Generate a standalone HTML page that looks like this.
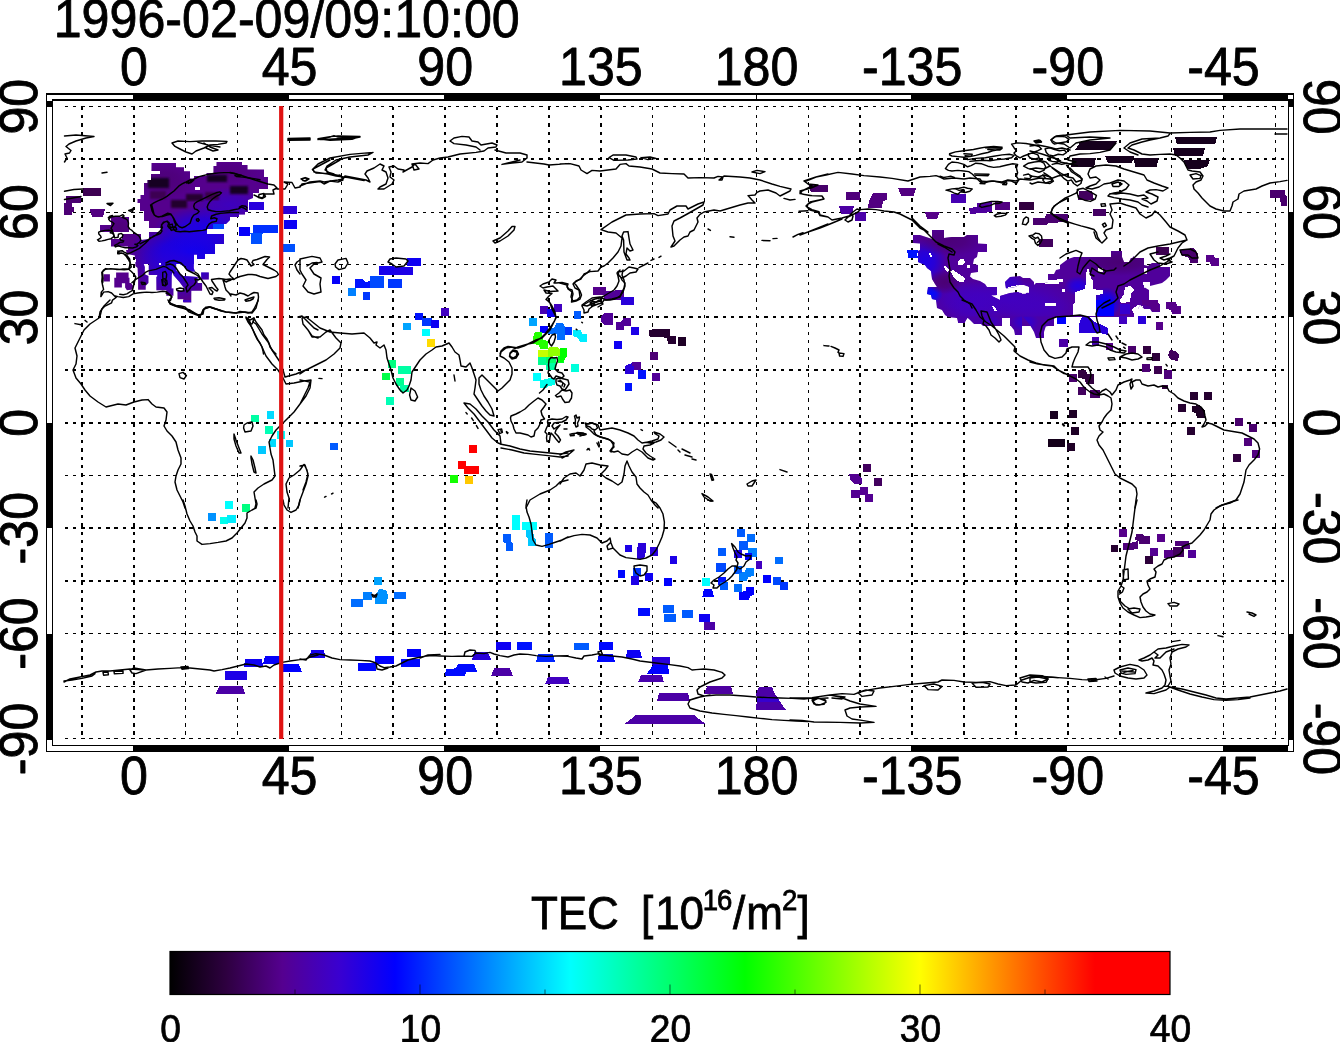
<!DOCTYPE html>
<html lang="en"><head><meta charset="utf-8"><title>TEC map 1996-02-09/09:10:00</title>
<style>html,body{margin:0;padding:0;background:#fff}body{width:1340px;height:1042px;overflow:hidden}svg{display:block}text{font-family:"Liberation Sans",Arial,Helvetica,sans-serif;fill:#000}</style>
</head><body>
<svg width="1340" height="1042" viewBox="0 0 1340 1042">
<rect width="1340" height="1042" fill="#fff"/>
<g id="grid" stroke="#000" stroke-dasharray="3.4 4.93" fill="none" shape-rendering="crispEdges">
<path stroke-width="1" d="M64.5 686.5H1287.5M64.5 633.5H1287.5M64.5 475.5H1287.5M64.5 264.5H1287.5M64.5 106.5H1287.5M185.5 106.7V738.9M237.5 106.7V738.9M289.5 106.7V738.9M341.5 106.7V738.9M652.5 106.7V738.9M704.5 106.7V738.9M756.5 106.7V738.9M808.5 106.7V738.9M1171.5 106.7V738.9M1223.5 106.7V738.9M1275.5 106.7V738.9"/>
<path stroke-width="1.4" d="M64.5 738.5H1287.5M64.5 212.5H1287.5"/>
<path stroke-width="2" d="M64.5 581.0H1287.5M64.5 528.0H1287.5M64.5 423.0H1287.5M64.5 370.0H1287.5M64.5 317.0H1287.5M64.5 159.0H1287.5M82.0 106.7V738.9M134.0 106.7V738.9M393.0 106.7V738.9M445.0 106.7V738.9M497.0 106.7V738.9M549.0 106.7V738.9M601.0 106.7V738.9M860.0 106.7V738.9M912.0 106.7V738.9M964.0 106.7V738.9M1016.0 106.7V738.9M1068.0 106.7V738.9M1120.0 106.7V738.9"/>
</g>
<g id="cells" shape-rendering="crispEdges">
<defs><filter id="soft" x="-20%" y="-20%" width="140%" height="140%"><feGaussianBlur stdDeviation="0.9"/></filter><radialGradient id="r2"><stop offset="0" stop-color="#0b00f5" stop-opacity="1"/><stop offset="0.45" stop-color="#0b00f5" stop-opacity="0.75"/><stop offset="1" stop-color="#0b00f5" stop-opacity="0"/></radialGradient><radialGradient id="r3"><stop offset="0" stop-color="#1c00e7" stop-opacity="1"/><stop offset="0.45" stop-color="#1c00e7" stop-opacity="0.75"/><stop offset="1" stop-color="#1c00e7" stop-opacity="0"/></radialGradient><radialGradient id="r4"><stop offset="0" stop-color="#2900da" stop-opacity="0.8"/><stop offset="0.45" stop-color="#2900da" stop-opacity="0.60"/><stop offset="1" stop-color="#2900da" stop-opacity="0"/></radialGradient><radialGradient id="r5"><stop offset="0" stop-color="#3200d3" stop-opacity="0.7"/><stop offset="0.45" stop-color="#3200d3" stop-opacity="0.52"/><stop offset="1" stop-color="#3200d3" stop-opacity="0"/></radialGradient><radialGradient id="r6"><stop offset="0" stop-color="#4a0070" stop-opacity="0.7"/><stop offset="0.45" stop-color="#4a0070" stop-opacity="0.52"/><stop offset="1" stop-color="#4a0070" stop-opacity="0"/></radialGradient><radialGradient id="r7"><stop offset="0" stop-color="#4d0075" stop-opacity="0.6"/><stop offset="0.45" stop-color="#4d0075" stop-opacity="0.45"/><stop offset="1" stop-color="#4d0075" stop-opacity="0"/></radialGradient><radialGradient id="r8"><stop offset="0" stop-color="#4d0075" stop-opacity="0.8"/><stop offset="0.45" stop-color="#4d0075" stop-opacity="0.60"/><stop offset="1" stop-color="#4d0075" stop-opacity="0"/></radialGradient><clipPath id="g1"><path d="M151.5 163L176 163L176 167.2L184 167.2L184 171.2L190 171.2L190 178.5L194 178.5L194 176L206.5 176L206.5 173L213.5 173L213.5 166L216.5 166L216.5 162L241.5 162L241.5 166.5L247.5 166.5L247.5 169.5L264 169.5L264 189L259 189L259 193L253 193L253 198L248 200L248 212L238 212L238 217L230 217L230 220L226 224L224 224L224 229L207 229L207 234L224 234L224 244L215 244L215 254L205 254L205 258L197 258L197 254L194 254L194 264L136 264L136 250L140 246L149 240L149 232L161 232L161 228L149 228L149 221L144 221L144 211L140 211L140 203L137.5 203L137.5 199L140.5 199L140.5 195L144 195L144 183L147.5 183L147.5 180L151 180L151 174L160 174L160 171L151.5 171Z"/><path d="M230 162L242 162L242 165L247.5 165L247.5 170L263.5 170L263.5 177L268 177L268 189L259 189L259 193L253 193L253 198L248 200L248 212L245 212L245 214.5L239 214.5L239 217L230 217Z"/><rect x="100" y="225" width="12" height="7"/><rect x="111" y="217" width="18" height="15"/><path d="M122 234L141 234L141 240L150 239L150 250L135 252L128 250L128 246.5L111 246.5L111 239L122 239Z"/><path d="M135 252L135 259L147 259L149 262L149 266L160 266L160 250L150 250Z"/><path d="M126 250L126.9 254L134.9 255.4L134.9 259L148.8 259L148.8 275.1L157.3 275.1L157.3 276.9L159.1 275.1L171.6 275.1L173.4 270.6L176.1 270.6L176.1 261.6L183.3 266.1L186 266.1L193.6 267.9L193.6 254.5L197.2 254.5L197.2 259L204.8 259L204.8 253.6L213.7 253.6L213.7 250Z"/><path d="M156.4 276.9L159.1 275.1L171.6 275.1L171.6 288.5L173.4 288.5L173.4 295.7L166.3 295.7L166.3 290.3L156.4 290.3Z"/><path d="M173.4 270.6L176.1 270.6L183.3 276L197.6 276.9L197.6 283.1L202.1 283.1L202.1 290.7L191.3 290.7L191.3 302.4L183.3 302.4L183.3 299.3L177.5 299.3L177.5 290.7L184.2 290.7L184.2 288.5L179.7 282.2L173.4 275.1Z"/><path d="M186 266.1L193.6 267.9L194.9 271.5L189.5 271.5L186 269.7Z"/><rect x="201.2" y="272.4" width="7.6" height="7.2"/><rect x="103.6" y="274.2" width="6.3" height="7.2"/><rect x="116.1" y="272.4" width="12.5" height="5.4"/><rect x="114.3" y="277.8" width="15.2" height="5.4"/><rect x="114.3" y="283.1" width="7.6" height="4.3"/><path d="M125.1 283.1L130.9 283.1L133.1 285.8L133.1 289.4L126.9 290.3L125.1 287.6Z"/><path d="M135.4 262.1L143 262.1L144.8 267L144.8 274.2L148.4 276L148.4 283.1L145.7 285.8L145.7 289.8L138.1 289.8L138.1 279.6L137.6 267.9L135.4 266.1Z"/></clipPath><radialGradient id="r10"><stop offset="0" stop-color="#4000c4" stop-opacity="0.9"/><stop offset="0.45" stop-color="#4000c4" stop-opacity="0.68"/><stop offset="1" stop-color="#4000c4" stop-opacity="0"/></radialGradient><radialGradient id="r11"><stop offset="0" stop-color="#4000c4" stop-opacity="0.8"/><stop offset="0.45" stop-color="#4000c4" stop-opacity="0.60"/><stop offset="1" stop-color="#4000c4" stop-opacity="0"/></radialGradient><radialGradient id="r12"><stop offset="0" stop-color="#1c00e7" stop-opacity="1"/><stop offset="0.45" stop-color="#1c00e7" stop-opacity="0.75"/><stop offset="1" stop-color="#1c00e7" stop-opacity="0"/></radialGradient><radialGradient id="r13"><stop offset="0" stop-color="#000bff" stop-opacity="1"/><stop offset="0.45" stop-color="#000bff" stop-opacity="0.75"/><stop offset="1" stop-color="#000bff" stop-opacity="0"/></radialGradient><radialGradient id="r14"><stop offset="0" stop-color="#4a0070" stop-opacity="0.9"/><stop offset="0.45" stop-color="#4a0070" stop-opacity="0.68"/><stop offset="1" stop-color="#4a0070" stop-opacity="0"/></radialGradient><radialGradient id="r15"><stop offset="0" stop-color="#4a0070" stop-opacity="0.8"/><stop offset="0.45" stop-color="#4a0070" stop-opacity="0.60"/><stop offset="1" stop-color="#4a0070" stop-opacity="0"/></radialGradient><radialGradient id="r16"><stop offset="0" stop-color="#3200d3" stop-opacity="0.8"/><stop offset="0.45" stop-color="#3200d3" stop-opacity="0.60"/><stop offset="1" stop-color="#3200d3" stop-opacity="0"/></radialGradient><radialGradient id="r17"><stop offset="0" stop-color="#2100e2" stop-opacity="1"/><stop offset="0.45" stop-color="#2100e2" stop-opacity="0.75"/><stop offset="1" stop-color="#2100e2" stop-opacity="0"/></radialGradient><radialGradient id="r18"><stop offset="0" stop-color="#0600fa" stop-opacity="1"/><stop offset="0.45" stop-color="#0600fa" stop-opacity="0.75"/><stop offset="1" stop-color="#0600fa" stop-opacity="0"/></radialGradient><radialGradient id="r19"><stop offset="0" stop-color="#47006a" stop-opacity="0.8"/><stop offset="0.45" stop-color="#47006a" stop-opacity="0.60"/><stop offset="1" stop-color="#47006a" stop-opacity="0"/></radialGradient><radialGradient id="r20"><stop offset="0" stop-color="#4100c1" stop-opacity="0.7"/><stop offset="0.45" stop-color="#4100c1" stop-opacity="0.52"/><stop offset="1" stop-color="#4100c1" stop-opacity="0"/></radialGradient><radialGradient id="r21"><stop offset="0" stop-color="#4100c1" stop-opacity="0.6"/><stop offset="0.45" stop-color="#4100c1" stop-opacity="0.45"/><stop offset="1" stop-color="#4100c1" stop-opacity="0"/></radialGradient><clipPath id="g9"><path d="M913 235L920 235L932 239L932 230L944 230L944 238L952 237L964 237L967 235L978 235L978 243.5L987 244L987 252L978 252L977 257L974 259L973 264L978 265L978 272L971 273L970 276.5L973 279L980 281L985 284L987 287L997 287L997 295L991 295.5L1000 300L1000 296L1010 293L1018 292L1024 294L1029 292L1029 287L1024 285L1019 285L1015 287L1006 288.5L1005 282L1010 277L1020 276L1023 278L1030 278L1034 282L1034 326L983 326L979 322L972 321L968 317L965 322L958 322L957 318L948 317L945 315L942 310L937 308L936 300L932 299L931 295L927 294L928 287L937 287L935 284L932 279L931 271L927 268L925 265L918 262L918 251L920 250L920 243.5L913 243Z"/><path d="M1034 285L1036 283L1045 283L1048 282L1048 274L1054 274L1056 270L1060 269L1060 265L1068 259L1074 257L1111 257L1111 251L1122 251L1122 257L1124 262L1129 262L1134 256L1134 326L1034 326Z"/><path d="M1100 257L1111 257L1111 251L1122 251L1122 257L1124 262L1129 262L1131 258L1144 258L1144 265L1148 266L1152 263L1160 263L1160 267L1170 267L1170 276L1166 280L1162 283L1150 286L1150 282L1144 282L1144 287L1149 290L1149 300L1153 304L1160 304L1160 312L1152 312L1150 309L1144 309L1140 305L1138 309L1132 309L1132 314L1120 314L1120 309L1110 306L1108 309L1108 316L1100 316Z"/></clipPath><radialGradient id="r23"><stop offset="0" stop-color="#2900da" stop-opacity="0.8"/><stop offset="0.45" stop-color="#2900da" stop-opacity="0.60"/><stop offset="1" stop-color="#2900da" stop-opacity="0"/></radialGradient><radialGradient id="r24"><stop offset="0" stop-color="#3700ce" stop-opacity="0.6"/><stop offset="0.45" stop-color="#3700ce" stop-opacity="0.45"/><stop offset="1" stop-color="#3700ce" stop-opacity="0"/></radialGradient><clipPath id="g22"><path d="M958 316.5L965 316.5L965 323L958 323Z"/><path d="M966 316.5L1002 316.5L1002 325L994 325L990 324L984 322L982 324L974 324L970 320Z"/><path d="M1010 316.5L1022 316.5L1022 335L1015 335L1014 330L1010 325Z"/><path d="M1023 316.5L1053 316.5L1053 325L1044 327L1044 338L1036 338L1034 332L1030 325L1026 320Z"/><path d="M1040 316.5L1053 316.5L1053 324L1046 326L1044 332L1044 338L1040 338Z"/></clipPath></defs>
<g clip-path="url(#g1)"><rect x="0" y="0" width="1340" height="1042" fill="#55008d"/><ellipse cx="190" cy="252" rx="62" ry="30" fill="url(#r2)"/><ellipse cx="205" cy="228" rx="50" ry="22" fill="url(#r3)"/><ellipse cx="175" cy="270" rx="45" ry="30" fill="url(#r4)"/><ellipse cx="230" cy="205" rx="40" ry="18" fill="url(#r5)"/><ellipse cx="165" cy="180" rx="30" ry="18" fill="url(#r6)"/><ellipse cx="230" cy="172" rx="30" ry="12" fill="url(#r7)"/><ellipse cx="120" cy="228" rx="16" ry="12" fill="url(#r8)"/><rect x="147.5" y="177.5" width="21" height="10" fill="#190020" filter="url(#soft)"/><rect x="150" y="190.5" width="16" height="8" fill="#3d0052" filter="url(#soft)"/><rect x="170.5" y="199.5" width="16" height="8" fill="#23002d" filter="url(#soft)"/><rect x="186" y="194" width="16.5" height="6.5" fill="#280033" filter="url(#soft)"/><rect x="204.5" y="192" width="14.5" height="7.5" fill="#3a004c" filter="url(#soft)"/><rect x="206.5" y="174.5" width="20" height="7.5" fill="#190020" filter="url(#soft)"/><rect x="230" y="186" width="17.5" height="8" fill="#190020" filter="url(#soft)"/><rect x="195" y="186.5" width="5" height="3.5" fill="#ffffff"/><rect x="213" y="224" width="11" height="5" fill="#0049ff"/><rect x="158.7" y="263.4" width="1.8" height="1.8" fill="#ffffff"/></g>
<rect x="83" y="188.3" width="17.5" height="7.2" fill="#3d0052"/>
<rect x="66" y="195.5" width="15" height="7.5" fill="#4a0070"/>
<rect x="64" y="203" width="8" height="11.5" fill="#4d0075"/>
<rect x="72" y="207" width="2" height="5" fill="#4d0075"/>
<path d="M89.5 209L105 209L103 216.5L92 216.5Z" fill="#520081"/>
<rect x="249" y="202" width="15" height="7.5" fill="#2700dd"/>
<rect x="283" y="206.2" width="13.5" height="7.3" fill="#2c00d8"/>
<rect x="284" y="220.2" width="12.8" height="8.3" fill="#0b00f5"/>
<rect x="239" y="227.2" width="11" height="8.3" fill="#0600fa"/>
<rect x="253" y="225.2" width="25" height="7.3" fill="#002fff"/>
<path d="M250 232.5L263 232.5L262 235.5L262 243.5L251 243.5L251 235.5Z" fill="#0050ff"/>
<rect x="282" y="244" width="13" height="7.5" fill="#0050ff"/>
<rect x="332" y="276" width="8" height="7.6" fill="#0600fa"/>
<rect x="348.4" y="288" width="7.6" height="7.6" fill="#0080ff"/>
<rect x="363" y="292" width="7.4" height="7.6" fill="#0037ff"/>
<path d="M355 279L362 279L366 282L370 281L370 288L355 288Z" fill="#0012ff"/>
<rect x="370" y="276" width="14" height="12" fill="#0049ff"/>
<rect x="379" y="265.6" width="15" height="9.4" fill="#1600eb"/>
<rect x="394" y="267" width="19" height="8" fill="#1c00e7"/>
<rect x="407" y="258.4" width="14" height="7.6" fill="#0e00f3"/>
<rect x="388" y="279" width="14" height="9" fill="#0037ff"/>
<rect x="593" y="287.6" width="13" height="6.4" fill="#55008d"/>
<path d="M607 291L624 290L624 297L620 300L605 300L604 295Z" fill="#55008d"/>
<rect x="621" y="297" width="13" height="7.4" fill="#1c00e7"/>
<path d="M810 185.6L828 185.6L828 192.4L812.4 192.4Z" fill="#47006a"/>
<path d="M809 185L828 185L826 192.4L811 192.4Z" fill="#47006a"/>
<rect x="846" y="192" width="14.4" height="8" fill="#4f007b"/>
<path d="M873 193L887 193L887 200L883 201L882 208L868 208L869 201Z" fill="#520081"/>
<path d="M898 188L916 188L913.6 195.6L901 195.6Z" fill="#520081"/>
<path d="M839 206L854 206L852 213.6L841 213.6Z" fill="#4c00a3"/>
<rect x="855" y="212" width="11" height="9" fill="#4a00a8"/>
<path d="M925 212L940 212L937 219L927 219Z" fill="#56008a"/>
<rect x="951" y="194.4" width="15" height="8.6" fill="#4600b3"/>
<path d="M977 203L992 202L992 212L970 214L969 208L977 207Z" fill="#4f009d"/>
<rect x="995" y="202" width="15" height="7.6" fill="#520081"/>
<rect x="1019" y="202" width="15" height="7.6" fill="#320040"/>
<path d="M1033 218L1045 218L1046 214L1068 214L1068 222L1048 223L1046 225L1033 225Z" fill="#4a0070"/>
<rect x="1039" y="239" width="14" height="8" fill="#42005e"/>
<path d="M907 250L918 250L916 258L909 258Z" fill="#0012ff"/>
<path d="M1081 141L1117 141L1111 150L1075 150Z" fill="#16001d"/>
<path d="M1073 158L1096 158L1094 167L1071 167Z" fill="#16001d"/>
<path d="M1105 156L1134 156L1132 163L1108 163Z" fill="#16001d"/>
<path d="M1134 158.4L1158 158.4L1157 167L1135 167Z" fill="#16001d"/>
<path d="M1175 137L1217 137L1215 144.4L1177 144.4Z" fill="#16001d"/>
<path d="M1173 148L1205 148L1203 155.6L1175 155.6Z" fill="#16001d"/>
<path d="M1184 160L1210 160L1208 166L1200 169L1188 169L1185 166Z" fill="#16001d"/>
<path d="M1079 191L1092 191L1094 200L1078 200Z" fill="#42005e"/>
<rect x="1093" y="209" width="12.6" height="7.4" fill="#450064"/>
<path d="M1033 218L1045 218L1046 214L1068 214L1068 222L1048 223L1046 225L1033 225Z" fill="#4a0070"/>
<path d="M1270 190L1285 190L1285 195L1287 196L1287 206L1281 206L1280 198L1270 198Z" fill="#49006d"/>
<path d="M1180 250L1190 249L1198 255L1198 262L1190 262L1189 258L1181 255Z" fill="#4a0070"/>
<path d="M1206 255L1214 255L1214 258L1219 258L1219 265.6L1211 265.6L1211 262L1206 262Z" fill="#56008a"/>
<rect x="1156" y="247.6" width="13" height="7.4" fill="#42005e"/>
<g clip-path="url(#g9)"><rect x="0" y="0" width="1340" height="1042" fill="#50009b"/><ellipse cx="1010" cy="300" rx="70" ry="22" fill="url(#r10)"/><ellipse cx="965" cy="300" rx="40" ry="20" fill="url(#r11)"/><ellipse cx="925" cy="262" rx="22" ry="22" fill="url(#r12)"/><ellipse cx="931" cy="294" rx="12" ry="10" fill="url(#r13)"/><ellipse cx="945" cy="282" rx="18" ry="12" fill="url(#r14)"/><ellipse cx="950" cy="240" rx="35" ry="16" fill="url(#r15)"/><ellipse cx="1010" cy="283" rx="14" ry="10" fill="url(#r16)"/><ellipse cx="1078" cy="286" rx="14" ry="10" fill="url(#r17)"/><ellipse cx="1106" cy="303" rx="15" ry="16" fill="url(#r18)"/><ellipse cx="1120" cy="262" rx="45" ry="14" fill="url(#r19)"/><ellipse cx="1040" cy="310" rx="40" ry="16" fill="url(#r20)"/><ellipse cx="975" cy="312" rx="30" ry="18" fill="url(#r21)"/><path d="M958 261L960 259L964 259.5L965 263L962 265L958.5 264.5Z" fill="#ffffff"/><path d="M967 265L970 265.5L969.5 268L967.5 267.5Z" fill="#ffffff"/><path d="M944 266.5L946 266L949 270L948 272L945 270Z" fill="#ffffff"/><path d="M950 271L953 270L965 278L964 282L960 282L955 279L952 274Z" fill="#ffffff"/><path d="M929 253L931 253.5L932 257.5L930 257Z" fill="#ffffff"/><path d="M992 306L995 307L997 311L994 310.5Z" fill="#ffffff"/><path d="M1088 267L1090 274L1092 280L1093 289L1103 291L1103 294L1096 295L1096 302L1100 307L1098 310L1096 316L1073 316L1073 305L1075 302L1075 292L1085 289L1086 282L1086 274Z" fill="#ffffff"/><path d="M1056.5 279L1063 279L1063 282L1056.5 282Z" fill="#ffffff"/><path d="M1045 303L1056 303L1056 306L1045 306Z" fill="#ffffff"/><path d="M1062 289L1065 289L1065 292L1062 292Z" fill="#ffffff"/><path d="M1098 268L1103 268.5L1103 272L1098.5 272Z" fill="#ffffff"/><path d="M1015 288L1018 285L1028 286L1029 292L1023 294L1015 291Z" fill="#ffffff"/><path d="M1125 287L1131 286L1134 290L1131 294L1130 302L1121 303L1120 300L1124 294Z" fill="#ffffff"/><path d="M1144 268L1147 268L1147 274L1144 274Z" fill="#ffffff"/><path d="M1100 290L1103 290L1103 294L1100 294Z" fill="#ffffff"/><path d="M1054 317L1134 317L1134 326.5L1054 326.5Z" fill="#ffffff"/><path d="M1002 318L1010 318L1010 326L1002 326Z" fill="#ffffff"/><path d="M991 295L996 295L1000 296L999 299L994 297Z" fill="#ffffff"/><path d="M1006 288L1013 286L1018 285L1026 286L1029 288L1029 293L1023 294L1017 291L1012 293L1006 290Z" fill="#ffffff"/><path d="M1045 303.2L1055.5 303L1056 305.8L1045.5 306.2Z" fill="#ffffff"/><path d="M1143 282L1150 282.5L1150 288L1144 288Z" fill="#ffffff"/><path d="M1138 305L1143 306L1144 310L1140 313L1133 313L1132 309Z" fill="#ffffff"/><path d="M1160 290L1166 290L1166 302L1160 304Z" fill="#ffffff"/><path d="M1086 280L1093 280L1092 290L1087 289Z" fill="#ffffff"/><path d="M1045 280L1059 280L1059 284L1045 284Z" fill="#ffffff"/></g>
<path d="M906 250.5L918 250.5L917 255L918 257.5L908.5 257.5L908 254Z" fill="#0012ff"/>
<path d="M1166 302L1174 302L1176 306L1181 306L1181 314L1174 314L1172 309L1166 309Z" fill="#56008a"/>
<rect x="1120" y="316" width="7" height="7" fill="#4b00a6"/>
<rect x="1138" y="316.5" width="8" height="7" fill="#4100c1"/>
<rect x="1156" y="322" width="7" height="4" fill="#56008a"/>
<path d="M1180 250L1185 249L1194 248L1198 254L1198 262.5L1190 262.5L1190 258L1183 256Z" fill="#49006d"/>
<path d="M1206 255L1214 255L1215 258L1219 258L1219 266L1211 266L1210 262.5L1206 262Z" fill="#56008a"/>
<path d="M1156 247.5L1169 247L1168 255L1159 255Z" fill="#3b004f"/>
<rect x="183" y="300" width="8" height="2.4" fill="#3d00c9"/>
<rect x="251" y="415" width="8" height="7.4" fill="#00ffa4"/>
<rect x="267" y="411" width="7.4" height="8" fill="#00dbff"/>
<rect x="265" y="426.4" width="8" height="8" fill="#00ffb6"/>
<rect x="277" y="431" width="8" height="8" fill="#00ffff"/>
<rect x="269" y="439" width="7.4" height="8" fill="#00dbff"/>
<rect x="286" y="439.6" width="7.4" height="7.4" fill="#00c8ff"/>
<rect x="258" y="446" width="8" height="8.4" fill="#00c8ff"/>
<rect x="225" y="501" width="8" height="8" fill="#00ffff"/>
<rect x="242" y="504" width="8" height="7.6" fill="#00ff80"/>
<rect x="441" y="308" width="8" height="7.6" fill="#4100c1"/>
<rect x="415" y="313" width="8" height="7" fill="#0012ff"/>
<rect x="422" y="318" width="10" height="8" fill="#0037ff"/>
<rect x="431" y="320" width="8" height="7.6" fill="#0e00f3"/>
<rect x="403" y="323" width="8" height="7.4" fill="#00a4ff"/>
<rect x="422" y="329" width="8" height="7.4" fill="#00ffff"/>
<rect x="427" y="339" width="8" height="8" fill="#ffdb00"/>
<rect x="388" y="360" width="7.6" height="7.6" fill="#00ff80"/>
<rect x="398" y="366" width="13" height="7.6" fill="#00ffa4"/>
<rect x="382" y="373" width="8" height="7.4" fill="#00ff49"/>
<rect x="396" y="378" width="8" height="7.6" fill="#00ff92"/>
<rect x="400" y="385" width="9" height="7" fill="#00ffa4"/>
<rect x="386" y="397" width="8" height="8" fill="#00ffb6"/>
<rect x="330" y="443" width="8" height="7.4" fill="#005bff"/>
<rect x="469" y="445" width="8" height="8" fill="#ff0000"/>
<rect x="458" y="461" width="8" height="8" fill="#ff0000"/>
<rect x="464" y="466" width="15" height="7.6" fill="#ff0000"/>
<rect x="450" y="475" width="8" height="8" fill="#12ff00"/>
<rect x="465" y="475.6" width="8" height="8" fill="#ffc800"/>
<rect x="540" y="306" width="8" height="8" fill="#4600b3"/>
<rect x="554" y="304" width="8" height="8" fill="#4100c1"/>
<rect x="547" y="309" width="8" height="7.5" fill="#0e00f3"/>
<rect x="573.5" y="311" width="7.5" height="7.5" fill="#005bff"/>
<rect x="529" y="318" width="8" height="7.5" fill="#00a4ff"/>
<rect x="540" y="325.5" width="8" height="7.5" fill="#0000ff"/>
<path d="M556 323L563 323L565 327L572 327L572 335L565 335L565 340L557 340L557 334L548 334L549 329L555 327Z" fill="#006dff"/>
<path d="M565 327L572 327L572 335L565 335Z" fill="#0037ff"/>
<path d="M573 330L581 330L582 334L587 334L587 342L580 342L578 338L573 336Z" fill="#00edff"/>
<path d="M535 332L542 332L543 340L548 341L548 349L540 349L539 345L533 344L533 337Z" fill="#24ff00"/>
<path d="M538 350L548 350L549 347L558 347L559 349L567 349L567 356L563 357L558 356L548 357L538 357Z" fill="#92ff00"/>
<rect x="538" y="350" width="10" height="7" fill="#c8ff00"/>
<rect x="538" y="357" width="8" height="8" fill="#00ff92"/>
<rect x="546" y="357" width="10" height="13" fill="#00ff6d"/>
<rect x="558" y="356" width="6" height="7" fill="#00ff24"/>
<rect x="571" y="364" width="8" height="7" fill="#00ffdb"/>
<rect x="593" y="287" width="13" height="8" fill="#55008d"/>
<path d="M606 291L624 290L624 297L616 300L604 300L604 295Z" fill="#510098"/>
<rect x="621" y="297" width="13" height="7.5" fill="#2900da"/>
<path d="M605 313L613 313L613 325L604 325L601 322L601 316Z" fill="#510098"/>
<path d="M624 318L631 318L631 326L624 326L624 330L616 330L616 322L621 322Z" fill="#510098"/>
<rect x="631" y="327" width="8" height="8" fill="#1c00e7"/>
<rect x="614" y="341" width="8" height="8" fill="#1300ee"/>
<path d="M634 362L625 366L625 374L634 374Z" fill="#2900da"/>
<rect x="533" y="372.5" width="8" height="3.5" fill="#00ffff"/>
<path d="M624 317.6L631 317.6L631 326L624 326L624 330L616 330L616 322L621 322Z" fill="#510098"/>
<rect x="631" y="327" width="8" height="8" fill="#1c00e7"/>
<rect x="614" y="341" width="8" height="8" fill="#0e00f3"/>
<path d="M649 329.6L670 329L670.4 335.6L676 336L676 344L668 344L667 337.6L649.6 337Z" fill="#250030"/>
<rect x="678" y="337" width="8" height="9" fill="#1e0026"/>
<rect x="650" y="352" width="8" height="8" fill="#4d0075"/>
<rect x="632" y="362.4" width="9" height="7.6" fill="#510098"/>
<rect x="625" y="366" width="9" height="8" fill="#2900da"/>
<rect x="638" y="370" width="8" height="9" fill="#0012ff"/>
<rect x="652" y="373" width="8" height="8" fill="#510098"/>
<rect x="625" y="383" width="7" height="8" fill="#0012ff"/>
<rect x="571" y="364" width="8" height="7.6" fill="#00ffdb"/>
<path d="M560 348L567 348L567 356L563 362L560 362Z" fill="#00ff00"/>
<rect x="863" y="464.4" width="8" height="7.6" fill="#42005e"/>
<path d="M849 473.6L858 473.6L862 479L862 484L854 484L850 479Z" fill="#530092"/>
<rect x="874" y="478.4" width="8" height="7.6" fill="#42005e"/>
<rect x="851" y="490" width="9" height="8" fill="#530092"/>
<path d="M860 487L868 487L868 494L873 494L873 502L865 502L865 495L860 495Z" fill="#530092"/>
<rect x="1050" y="411.4" width="8" height="7.6" fill="#190020"/>
<rect x="1048" y="439.6" width="17" height="7.4" fill="#14001a"/>
<rect x="1057" y="317" width="9" height="7" fill="#0000ff"/>
<rect x="1059" y="339" width="9" height="8" fill="#4b00a6"/>
<rect x="1057" y="317" width="8" height="7" fill="#0000ff"/>
<rect x="1096" y="300" width="18" height="16" fill="#0000ff"/>
<path d="M1082 317L1090 317L1094 322L1100 324L1108 328L1108 335L1100 333L1094 333L1079 333L1079 324Z" fill="#2900da"/>
<rect x="1120" y="304" width="10" height="10" fill="#3700ce"/>
<rect x="1119" y="316" width="8" height="8" fill="#4100c1"/>
<rect x="1138" y="316.4" width="8" height="7.6" fill="#2900da"/>
<path d="M1142 300L1158 300L1160 311L1152 311L1150 306L1142 305Z" fill="#56008a"/>
<path d="M1166 302L1176 302L1177 306L1181 307L1181 314L1172 314L1171 310L1166 309Z" fill="#56008a"/>
<rect x="1156" y="322" width="7" height="8" fill="#56008a"/>
<rect x="1059.6" y="339" width="8.4" height="8" fill="#4b00a6"/>
<rect x="1092" y="337" width="7" height="8" fill="#4600b3"/>
<rect x="1106" y="343" width="7" height="7" fill="#56008a"/>
<rect x="1128" y="345.6" width="8" height="8.4" fill="#49006d"/>
<rect x="1143.4" y="346" width="8" height="8" fill="#320040"/>
<rect x="1151.6" y="353" width="8.4" height="8" fill="#2d003a"/>
<path d="M1170 350L1176 351L1179 355L1178 361L1171 360L1168 355Z" fill="#42005e"/>
<rect x="1142" y="364" width="8" height="8" fill="#4d0075"/>
<rect x="1154" y="366" width="8" height="8" fill="#3b004f"/>
<rect x="1164" y="370" width="8" height="9" fill="#4f007b"/>
<rect x="1069" y="374" width="8" height="8" fill="#49006d"/>
<path d="M1078 370L1086 370L1087 374L1094 374L1094 384L1086 384L1085 379L1078 378Z" fill="#320040"/>
<rect x="1078" y="387" width="8" height="8" fill="#42005e"/>
<rect x="1090" y="390" width="10" height="8" fill="#450064"/>
<rect x="1162" y="385" width="6" height="4" fill="#320040"/>
<rect x="1050" y="411" width="8" height="8" fill="#190020"/>
<rect x="1069" y="410" width="8" height="8" fill="#1e0026"/>
<rect x="1071" y="427" width="8" height="8" fill="#1e0026"/>
<rect x="1048" y="439.4" width="17" height="7.6" fill="#14001a"/>
<rect x="1067" y="443" width="8" height="8" fill="#1e0026"/>
<rect x="1190" y="392" width="8" height="8" fill="#250030"/>
<rect x="1204" y="392" width="8" height="8" fill="#250030"/>
<rect x="1178" y="404" width="8" height="8" fill="#250030"/>
<path d="M1192 406L1200 405L1205 411L1205 418L1197 418L1196 413L1192 412Z" fill="#1e0026"/>
<rect x="1187" y="427" width="8" height="8" fill="#250030"/>
<rect x="1235" y="418" width="8" height="8" fill="#49006d"/>
<rect x="1249" y="424" width="8" height="8" fill="#49006d"/>
<rect x="1244" y="438" width="8" height="8" fill="#4f007b"/>
<rect x="1252" y="450" width="8" height="8" fill="#520081"/>
<rect x="1233" y="454" width="8" height="8" fill="#320040"/>
<g clip-path="url(#g22)"><rect x="0" y="0" width="1340" height="1042" fill="#4a00a8"/><ellipse cx="1025" cy="322" rx="14" ry="10" fill="url(#r23)"/><ellipse cx="990" cy="322" rx="12" ry="8" fill="url(#r24)"/></g>
<rect x="225" y="501" width="8" height="8" fill="#00ffff"/>
<rect x="242" y="504" width="8" height="8.4" fill="#00ff80"/>
<rect x="208" y="513" width="8" height="8" fill="#0092ff"/>
<rect x="220" y="517" width="8" height="7.4" fill="#00ffed"/>
<rect x="227" y="515" width="9" height="8" fill="#00edff"/>
<path d="M245 659L262 659L263 667L244 667Z" fill="#0e00f3"/>
<path d="M265 656.4L279.6 656.4L280 664L263 664Z" fill="#0600fa"/>
<path d="M282 664L299 664L301.6 671.6L282 671.6Z" fill="#0000ff"/>
<rect x="225" y="671" width="22" height="8.6" fill="#1c00e7"/>
<path d="M219 686.4L242.4 686.4L245 693.6L216 693.6Z" fill="#4b00a6"/>
<rect x="374" y="577" width="8" height="8" fill="#00a4ff"/>
<rect x="363" y="592" width="9" height="8" fill="#0080ff"/>
<path d="M379 589L386 590L388 595L387 604L375 604L375 596Z" fill="#0092ff"/>
<rect x="394" y="591.6" width="12" height="7.4" fill="#006dff"/>
<rect x="351" y="599" width="12" height="8" fill="#006dff"/>
<rect x="512" y="515" width="8" height="15" fill="#00ffff"/>
<rect x="522" y="522" width="15" height="8" fill="#00ffff"/>
<path d="M526 530L533 530L534 538L536 539L536 545.6L528 545.6L528 538L526 537Z" fill="#00c8ff"/>
<path d="M503 534L511 534L511 542L513 543L513 550.6L505.6 550.6L505.6 543L503 542Z" fill="#005bff"/>
<rect x="545" y="533" width="8" height="15" fill="#005bff"/>
<path d="M311 650.4L324 650.4L325.6 658L309.6 658Z" fill="#1300ee"/>
<rect x="375" y="656.4" width="19" height="7.6" fill="#0000ff"/>
<rect x="358" y="663" width="18" height="8" fill="#0007ff"/>
<rect x="407" y="649" width="14" height="8" fill="#0000ff"/>
<rect x="401" y="659" width="19" height="8" fill="#0007ff"/>
<path d="M474 652.4L488 652.4L491 659.6L472 659.6Z" fill="#2900da"/>
<rect x="496" y="642" width="15" height="7.6" fill="#0e00f3"/>
<rect x="517" y="642" width="15" height="7.6" fill="#0012ff"/>
<path d="M538 654L553 654L555 661.6L536 661.6Z" fill="#0024ff"/>
<path d="M458 664L474 664L477 671.6L466 672L465 676L445 676L446 669L456 668.4Z" fill="#000bff"/>
<path d="M494 668.4L510 668.4L513 676L491 676Z" fill="#4b00a6"/>
<path d="M548 677L568 677L568 684.4L545 684.4Z" fill="#4100c1"/>
<rect x="625" y="545" width="7" height="7.4" fill="#1c00e7"/>
<path d="M638 543L646 543L646 551L644 559L637 559L637 551Z" fill="#2900da"/>
<rect x="650" y="547" width="8" height="9" fill="#2900da"/>
<rect x="669.6" y="556" width="7.4" height="7.6" fill="#1c00e7"/>
<rect x="618" y="570" width="7" height="7.6" fill="#0007ff"/>
<rect x="633" y="568" width="8" height="8" fill="#0037ff"/>
<rect x="631" y="576" width="8" height="9" fill="#1c00e7"/>
<rect x="645" y="573" width="8" height="8" fill="#0e00f3"/>
<rect x="664" y="578" width="8" height="8" fill="#0000ff"/>
<rect x="638" y="608" width="12" height="8" fill="#000bff"/>
<rect x="663" y="605" width="11" height="8" fill="#005bff"/>
<rect x="664" y="614.4" width="12" height="8" fill="#005bff"/>
<rect x="682" y="610" width="11" height="7.6" fill="#005bff"/>
<rect x="699" y="614" width="11" height="8" fill="#0e00f3"/>
<rect x="704" y="622" width="11" height="8" fill="#4b00a6"/>
<rect x="737" y="529" width="8" height="8" fill="#005bff"/>
<rect x="747" y="534" width="8" height="8" fill="#006dff"/>
<rect x="739" y="541" width="9" height="9" fill="#005bff"/>
<rect x="748" y="548" width="9" height="9" fill="#0080ff"/>
<rect x="718" y="548" width="8" height="8" fill="#005bff"/>
<rect x="734" y="550" width="8" height="8" fill="#1c00e7"/>
<rect x="745" y="553" width="7" height="7" fill="#0000ff"/>
<rect x="756" y="561" width="6" height="8" fill="#4100c1"/>
<rect x="775" y="557" width="8" height="7.4" fill="#006dff"/>
<rect x="716" y="563" width="10" height="9" fill="#0049ff"/>
<rect x="734" y="566" width="8" height="8" fill="#005bff"/>
<path d="M746 568L754 568L754 576L748 577L747 581L739 581L739 573L745 572Z" fill="#0080ff"/>
<rect x="702" y="578" width="8" height="8" fill="#00ffff"/>
<rect x="718" y="577" width="8" height="8" fill="#0012ff"/>
<rect x="720" y="582" width="8" height="8" fill="#005bff"/>
<rect x="734" y="584" width="8" height="8" fill="#006dff"/>
<path d="M746 587L754.4 587L754.4 595L750 596L749 600L739 600L739 592L746 591Z" fill="#0000ff"/>
<path d="M704 589L712 589L714 597L702.4 597Z" fill="#0000ff"/>
<rect x="763" y="575" width="8" height="8" fill="#0000ff"/>
<rect x="773" y="577" width="8" height="8" fill="#0049ff"/>
<rect x="780" y="582" width="8" height="8" fill="#0037ff"/>
<rect x="574" y="643" width="15" height="7.4" fill="#005bff"/>
<rect x="599" y="642" width="14" height="7.6" fill="#0007ff"/>
<path d="M599 654L613 654L615 661.6L597 661.6Z" fill="#0007ff"/>
<path d="M627 650.4L640 650.4L642 658L626 658Z" fill="#0e00f3"/>
<rect x="652" y="657" width="18" height="8" fill="#2900da"/>
<path d="M653 665L668 665L669 673.6L647 673.6Z" fill="#0000ff"/>
<path d="M641 675L662 675L664 682.4L638 682.4Z" fill="#4800ae"/>
<path d="M548 677L568 677L570 684.4L545 684.4Z" fill="#4100c1"/>
<path d="M659 693L688 693L690 700.6L657 700.6Z" fill="#4b00a6"/>
<path d="M707 686.4L731 686.4L733 694L704 694Z" fill="#4d00a0"/>
<path d="M759 687L772 687L775 694L778 698L781 703L786 710L756 710L757 698L756 694Z" fill="#4b00a6"/>
<path d="M757 697.6L778 697.6L780 702.4L757 702.4Z" fill="#3700ce"/>
<path d="M636 715L694 715L705 723.6L625 723.6Z" fill="#4b00a6"/>
<rect x="1119" y="529" width="8" height="8" fill="#56008a"/>
<rect x="1111" y="545" width="7" height="7.4" fill="#250030"/>
<path d="M1123 543L1130 543L1138 541L1138 549L1130 550L1123 550Z" fill="#4f007b"/>
<path d="M1136 534L1143 534L1144 536L1150 536L1150 543.6L1139 543.6L1139 541L1135 540Z" fill="#4a0070"/>
<rect x="1157" y="534" width="8" height="7.6" fill="#56008a"/>
<rect x="1150" y="547.6" width="8" height="8" fill="#530092"/>
<rect x="1145" y="556" width="8" height="7.6" fill="#2d003a"/>
<rect x="1164" y="550" width="9" height="8" fill="#56008a"/>
<rect x="1173" y="547" width="11" height="10" fill="#42005e"/>
<path d="M1175 541L1189 541L1190 549L1183 549L1182 546L1175 546Z" fill="#4f007b"/>
<rect x="1188" y="550" width="8" height="8" fill="#510098"/>
<rect x="533" y="373" width="8" height="7.5" fill="#00ffff"/>
<path d="M540 380L547 379L548 378L555 378L555 385L548 386L547 388L540 388Z" fill="#00ffed"/>
<rect x="546" y="363" width="10" height="7" fill="#00ffa4"/>
</g>
<g id="coast" stroke="#000" stroke-width="1.45" fill="none" stroke-linejoin="round" stroke-linecap="round">
<path d="M64.5 136L76 135L94 136.5L86 138L76 141L69 144L66 146.5L71 150.5L69.5 153L65 154L67 158L64.5 162M102 173L107 172.2M64.5 191.2L74 189.5L83 189M64.5 199.5L73 198L81 196.5M107 203.5L113 203.2L110.5 205.5L107 203.5M129 210.5L133 209L132.5 212M172 143L178 141L190 141.6L202 141L216 141L227 141.4L226 143L218 144.4L210 145L204 148L196 151L192 154L186 152L180 149L175 146.4ZM204 143L210 147L218 150L213 151L206 148M198 142.4L208 145L220 147M230 172.5L240 175L255 180L268 184L274 185L277 188L273 190L274 194L264 194L263 198L258 197L254 195M259 194.5L264 193.5L265.5 196.5L262 198.5L258.5 197.5ZM277 189L285 189L288 184L284 182L292 182.5L295 188L300 187L302 184L320 181.5L324 184L330 181L338 182L343 180L340 175L336 176L348 177.5L364 180.5M302 179L305.5 177.8L309 179L306 181L303 180.5ZM330 160L313 169L314 172L328 174L336 176M340 160L326 168L327 172L334 174M300 139.6L310 139M288 138.4L310 138L310 140L288 140.4ZM289 139.2L309 138.8M318 138.8L330 136.6L338 136L360 136.4L352 139.2L330 140.4ZM320 139.6L356 137.6M318 139.6L330 137L334 135.6L338 137L360 137L350 139L330 140M373 152.4L350 154.4L330 158L318 164L312.4 169.6L316 173L330 173.6L340 175.6L343 178.4L340 180.4M373 152.4L368 155L350 157L336 160L327 166L325 170L330 173M300 186L310 182L320 181L324 182L338 180L343 179L345 176L366 180L370 182L368 178L365 174L367 171L374 168L380 164L384 166L382 170L386 172L388 178L386 184L380 187L378 189L384 189L392 184L394 180L390 177L391 172L389 167L394 166L398 169L404 170L403 172L412 167L415 164L419 169L414 170L412 164L420 163L428 163.6L433 160L440 158L448 157L460 154L476 152.4L484 151L488 148L496 147L497 145L492 143L481 145L478 142L472 141L469 137L462 136.4L454 138L450 141L454 143.6L466 145L476 147L480 150M495 150L506 153L520 153L527 155L527 158L522 162L512 163L502 164.4L508 163L520 160M527 162L544 164L549 165L568 163.6M301 179L305 177.6L308 179.6L304 181ZM493 241L500 238L508 231L512 226.4L515 226.4L514 230L508 236L500 241L495 243ZM300 259L312 256.4L320 258L322 262L314 264L310 268L314 274L321 278L320 284L321 292L314 294L308 292L303 286L306 280L302 274L300 270ZM307 266L312 263L317 262.4M335 264L338 260L346 258.4L348 263L345 268L339 269.6L335.6 267ZM388 262L390 259L396 258L406 259L408 261L404 266L396 267L392 264ZM560 164L570 163.6L579 166L581 170L587 173.6L592 170.4L600 171L616 169L620 164.4L626 163.6L629 166L640 167L652 169L660 173L672 173.6L684 174L688 178L700 177.6L714 178L718 176.4L723 177L722 180L719 180L724 176L740 177L750 178L760 180L772 184L780 186.4L791 189L790 191L784 194L780 196L776 193L768 190L760 191L757 192.4L755 195L748 195.6L752 200L755 203L748 203L740 205L730 208L720 211L714 210L704 212L700 214.4L697 218L698 222L696 226L694 230L690 232L688 236L684 237L680 240L674 246L671 247L675 241L673 236L672 226L674 221L680 218L689 213L696 209L703 205L704 202L698 204L688 209L686 206L677 206L670 210L668 214L658 215.6L654 213.6L640 214L626 215L612 222L601 229.6L608 232L616 233L622 238L621 246L618 252L613 258L608 263L604 266L601 267L598 271L590 271.6L584 274L581 279L576 281L573 284L575 288L579 290L580 297L577 300L573 301L571 297L572 292L568 289L567 285L560 283M609 157.6L613 155L626 155L636 157L637 159L628 160L614 160.4ZM641 157.6L648 159.6L656 158.4L650 157L641 157.6M752 172L757 170.4L765 171.6L760 173.6ZM784 198.4L790 200L795 199.4M623.6 232L628 231.6L629 238L630 244L633 250L630 251L627 248L626 254L629 258L630 260L627 260L624 252L623.6 240L622 236ZM618 272L624 271L629 267L634 268L638 269L636 272L630 273L626 276L622 278L619 276ZM639 267.6L648 263M651 260.4L654 259M659 257.4L661 256.2M620 276L622 280L625 283L624 288L622 292L620 297L612 299L606 300L600 297L592 298L586 302L582 305L587 306L594 303L600 301L603 304L598 307M708 229L710.4 230.4M730 236.8L734 237.2M762 240.4L770 240.8M773 238.6L777 238.4M793 237L798 234.4L803 232.8M808 232L818 228L828 224M828 174L816 177L805 181.6L808 184L818 185L811 188L800 191L802 194L810 195.6L822 196L824 199L810 202L806 206L810 210L818 212L820 215.6L828 217M799 211.2L808 210.8M804 181L816 177L826 175L838 172.4L852 174L864 175.6L880 177L892 178.4L908 181L920 177L930 176.4L936 175.6L940 177L944 179L954 178L964 179L970 178L980 179L982 182L992 181L1002 182L1008 180L1016 181L1020 179L1030 180L1040 178L1050 179L1058 176L1068 174M804 181L808 184L812 186L806 189L802 191L800 192.4M800 193.6L812 195.6L822 196L824 199L812 202L808 204L807 207L812 209.6L819 211.6L820 215L828 217L832 220L842 218L849 216L853 212L857 209L860 210L858 212L848 217L845 220L848 222L852 220L853 216M842 219L830 224L820 228L808 232L800 235M860 209.6L868 209L876 209.6L884 211L894 212L900 214L906 217L912 220L916 224L920 228L924 230L928 234L932 238L936 242L944 246L952 249L955 252L954 255L949 254L948 258L949 264L950 270L949 276L950 282L954 288L958 292L960 296L964 300L970 304L972 308M912 218L920 226L928 232M938 244L944 247L952 252M1068 198L1060 202L1054 206L1051 212L1054 216L1060 220L1068 223M1066 135L1090 132L1120 130.4L1150 131L1170 133L1190 132.4L1210 132L1220 130.4L1240 129L1258 129L1287 129M1275 134L1287 134M1170 133.6L1168 136L1160 138L1150 140L1142 142L1132 145L1128 148L1134 150L1142 154L1150 155L1160 154.4L1170 154L1176 155L1180 158L1184 162L1186 166L1188 170L1192 171L1200 172L1203 176L1201 180L1196 182L1193 185L1194 189L1198 193L1202 198L1206 202L1210 206L1216 209L1224 211L1230 211L1232 206L1233 202L1238 199L1239 194L1244 191L1256 189L1262 186L1270 183L1280 181.6L1287 180.4M1190 175L1196 173.6L1201 175.6L1200 178.4L1193 179ZM1066 135L1056 136L1051 140L1056 143L1064 144L1070 148L1076 143L1090 140L1110 138L1090 137L1070 138L1066 135M1160 138L1142 139L1130 143L1124 148L1130 152L1138 155M1116 143L1110 150L1100 152.4L1090 153.6L1080 154L1070 156L1068 160L1076 162L1070 164L1060 162L1054 158L1048 156L1042 154L1036 152.4L1030 151M1030 146L1038 145L1048 147L1056 149L1062 148L1070 150M1034 141L1039 140L1041 142L1036 143ZM1030 158L1038 160L1046 162L1050 166L1044 169L1036 168L1030 169M1030 176L1038 177L1044 175L1050 177L1052 181L1046 183L1038 182L1032 184L1030 183"/>
<path d="M1050 166L1056 170L1062 174L1068 177L1073 178L1076 182L1082 180L1080 176L1074 172L1070 168M1096 166L1106 165L1116 166L1124 169L1134 172L1144 175L1147 180L1154 183L1162 186L1168 188L1163 191L1156 189.6L1150 190L1146 192L1152 194L1158 197L1157 201L1151 204L1147 201L1142 199L1148 198L1144 195L1138 196L1130 194L1122 193L1116 194L1110 193.6L1108 196L1114 197.6L1122 199L1130 200L1138 202L1142 205L1148 207M1096 166L1090 169L1088 174L1090 178L1096 177L1100 180L1096 184L1090 186L1086 188L1092 189L1099 187L1104 184L1110 183M1112 184L1118 182L1122 184L1119 186.4L1113 186.4ZM1110 183L1118 180L1124 181L1129 185L1126 189L1120 192L1114 193L1110 194M1094 232L1096 238L1102 243L1107 238L1104 233L1106 230L1112 228L1113 220L1110 214L1112 210L1110 204L1120 203L1126 205L1136 208L1140 214L1146 218L1152 215L1155 211L1160 215L1166 222L1170 227L1178 231L1185 235L1187 240L1182 243L1178 248L1174 256L1170 258L1164 260L1160 258L1166 256L1170 254M1101 204L1105 203.6L1105.6 206L1101.6 206.4ZM1102.4 224.4L1105 223L1106.4 225.6L1104 227.2ZM1187 240L1170 244L1158 246L1148 248L1140 252L1134 258L1130 262L1124 266M1174 256L1168 260L1172 262L1166 264L1158 263L1154 260L1150 254L1158 252M1180 250L1190 249L1196 252L1198 258L1192 258L1188 255L1182 255ZM1060 258L1066 254L1076 250.4L1082 253L1080 258L1078 266L1077 272L1080 274L1083 268L1088 262L1090 260L1096 264L1100 268L1106 271L1104 274L1098 272L1092 268L1090 274L1094 276M1106 271L1114 270L1116 268M1170 260L1160 266L1150 270L1138 276L1130 280L1124 284L1118 286L1116 292L1118 298L1114 302L1106 306L1102 308M110 300L104 306L100 312L99 318L90 324L84 330L80 338L75 348L77 356L76 364L73 370L76 378L81 384L85 390L90 396L98 402L106 407L110 406L118 404L126 405L134 402L142 400L148 399.6L152 404L156 407L164 408L167 412L166 420L164 426L167 431L172 436L176 442L178 450L181 458L181 464L178 470L176 476L175 482L177 490L180 496L183 502L185 508M75 323.6L81 324.8M85 320.4L87 322M179 373.6L183 372.4L186.4 375.6L184 379L180 377.6ZM168 300L170 304L178 307L190 310L198 315L203 314L204 309L210 307L216 309L226 312L236 313L245 312L252 313L256 308L258 300M246 317L250 324L254 332L258 340L262 347L266 356L272 364L278 370L282 376L284 380L286 384L294 383L304 381L311 380L310 388L306 396L300 404L294 412L288 418L282 424L276 430L272 436L269 442L270 448L271 454L273 460L274 468L275 476L272 480L264 484L258 488L254 492L255 498L256 504L255 508M246 317L250 320L254 318L253 322L256 324L262 334L268 342L272 350L276 356L280 362L283 370L285 377L296 374L308 369L318 364M244 425L247 423L252 422L253 426L251 431L245 432L243.6 428ZM234 434L236 440L239 448L241 453L239 453L236 446L234 439ZM251 456L253 460L255 468L256 473L254 472L252 464L251 458ZM288 508L289 498L287 492L286 484L289 478L294 475L300 470L304 464.4L307 470L308 476L306 484L303 492L300 500L298 508M298 317L302 316L308 322L314 328L318 330M303 324L308 330L312 336L318 338M300 374L306 370L316 365L326 360L334 354L340 348L341 343L336 338L330 330L326 332L320 337L312 337L308 330L303 324L302 318L306 317L310 320L320 328L330 332L340 333L352 334L364 333L370 338L374 343L377 342L376 345L380 348L384 345L386 350L387 358L389 364L391 370L393 378L396 384L400 390L403 393L407 390L409 386L411 380L412 372L416 366L420 360L426 354L432 350L436 347L442 346L449 343L452 347L455 352L459 355L460 360L461 366L466 367L470 363L472 368L474 374L476 380L475 388L474 394L478 400L482 406L486 411L490 415L494 416L492 409L488 402L484 396L481 390L479 384L479 378L482 375L486 379L490 383L494 387L498 391L502 388L506 384L510 380L512 374L512 368L509 362L504 358L500 356L501 352L506 348L512 347L518 348L524 346L530 343L536 340L542 338L546 334L550 330L553 324L556 318L555 312L552 306L548 300M411 388L415 391L417.6 397L415 401L411 400L409.6 395ZM510 353.6L513 351L517 352.4L516.4 356L513 358L510 356.4ZM464 403L470 404L476 409L482 416L488 422L494 430L500 436L501 444L498 443L492 438L486 430L480 422L474 414L468 408ZM500 444L510 446L520 449L530 451L540 452L550 453L560 454L568 453M501 448L512 450L524 453L536 454.4L548 455.6L560 457L568 456M454 375L455 381M466 412.6L467.2 414M471.6 418L473.2 420.4M476.4 425.6L478 428.4M498 429.6L501.6 429L502.4 432.4L499.6 433.6ZM506.4 431.6L508 432.8M300 380L310 382L308 388L304 396L300 404M300 466L305 465L308 474L306 482L303 490M319 378.4L322 378.6M324.6 497.2L326 496.4M331.6 494L333 493.2M526 508L530 500L540 494L550 490L556 486L560 482L568 480M590 270L587 273L583 276L580 279L577 281L574 283L576 285L578 288L580 291L581.5 295L580 299L576 301L571.5 302L572 298L573 294L572 290L569 289L567 287L568 284L562 282.5L556 283L554 283L556 280L552 279L549 282L543 284L540 286L543 288L547 287L553 286L558 291L550 291.5L544 290L546 293L552 293.5L549 296L546 299.5L548 301L550 303L552 309L554 313L556 317L554.5 321L552 325L549 329L545 334L542 337L538 340L533 343L528 344L523 345.5L518 347L515 348.5L512 347L508 346.5L504 348L501 351L500 354M510 353L513 350L517 351L518.5 354L516 358L512 359L509.5 356.5ZM549 340L552 335L555 334L555.5 337L554 342L551.5 346L549.5 343.5ZM582 306L585 304L590 301L595 299L600 298L604 296L609 293L614 290L617 286L619 281L618 276L617 273L620 270M582 306L584 310L584 313L588 312L589 309L593 306L598 304L602 303L604 300L610 300L615 299L620 296L623 292L625 286L624 280L622 275L623 270M590 303L593 301.5L596 302L599 300L601 301M590.5 304L594 303.5L595 305L591.5 305.8ZM581.8 322.2L582.4 322.8M576.2 329.2L577 329.8M586 424L592 423L598 425L600 430L606 429L612 428L620 430L628 433L634 436L638 440L642 443L648 442L654 443L650 445L644 446L643 449L646 453L650 456L655 459L653 460L648 458L642 452L637 449L632 452L628 455L622 454L618 451L614 452L610 451L613 447L614 443L610 440L604 438L598 436L594 434L590 430L586 427ZM654 432L660 434L664 437L661 440L656 442L650 443L646 442.4L652 441L658 439L659 436L655 433.6ZM669 442L676 447M678 450L680 452M682 449L690 453M685 455L692 457M692 459L696 460M710 474L711.6 474.4L713.6 480L712 480.4ZM702 493.6L708 497L713 501L710 501L704 497ZM747 484L752 481L756 480L752 486L748 486ZM780 469.6L787 472M572 433.6L578 433L586 434L580 436M560 455L566 452L574 450L568 455L562 458M588 448.4L589.6 450"/>
<path d="M597 443L599 447M560 484L564 478L570 474L576 473L580 476L584 470L586 464L592 463L600 465L608 466L605 470L601 474L606 478L612 481L618 485L622 482L624 474L625 466L627 461L629 466L632 472L636 477L637 484L640 488L644 492L648 495L651 500L655 505L658 508M824 345.6L828 346M641 429.6L642.4 430.4M824 345.6L829 346M831 346.4L835 348L839 350L838 352.4M839 353L844 353.6L843 356.4L839.6 356ZM981 311L987 312L989 317L991 322L995 328L999 335L1001 340L999 342L995 338L991 335L989 330L986 326L983 324L984 320L982 316ZM962 300L972 304L976 310L980 317L986 322L992 326L998 331L1004 336L1010 342L1015 347L1014 351L1020 356L1028 360L1036 363L1044 365L1052 366L1058 370L1064 373.6L1068 374.4M1062.6 424.4L1064 426M1110 300L1104 303L1098 308L1096 314L1097 320L1099 326L1100 332L1097 333L1094 328L1092 322L1088 317L1080 315L1070 316L1056 317L1048 320L1042 326L1040 334L1041 342L1044 350L1049 356L1055 358.4L1062 357L1066 353L1067 349L1072 347L1079 347L1078 352L1075 358L1073 363L1072 367L1078 367L1088 367L1090 370L1091 375L1090 379L1088 384L1092 388L1096 391L1099 394L1102 391L1106 389L1110 392L1112 395L1116 390L1118 385L1124 382L1130 380L1132 379L1130 384L1131 389L1133 386L1132 382L1136 380L1140 380L1142 384L1148 386L1154 385L1158 387L1162 386L1167 387L1169 391L1174 394L1178 398L1184 401L1190 403L1196 404L1201 407L1204 411L1205 416L1206 420L1204 424L1202 427L1205 426L1208 423L1212 424L1218 427L1224 430L1230 431L1236 432L1242 433L1248 436L1254 439L1258 443L1259.6 449L1258 455L1254 460L1249 465L1246 470L1245 476L1244 482L1242 488L1240 494L1236 500L1230 503L1222 505L1216 508M1030 362L1038 364L1046 365L1054 366L1058 370L1064 373L1070 376L1076 379L1080 382L1083 386L1086 389L1090 392L1094 394L1099 395L1104 394L1108 396L1111 398L1112 404L1111 410L1107 414L1104 418L1102 422L1099 426L1100 430L1103 432L1099 436L1097 440L1099 445L1103 450L1106 456L1109 462L1112 468L1115 474L1120 478L1126 481L1132 484L1136 488L1137 494L1136 500L1135 508M1086 345L1090 342L1098 342L1106 344L1114 347L1120 350L1126 351L1124 353L1116 352L1110 350L1106 347L1098 345L1092 346ZM1126 354L1132 353L1138 354L1142 357L1138 359L1132 360L1126 358L1120 357L1124 355ZM1108 358L1114 357.6L1115 359.6L1109 360ZM1147 358L1152 357.6L1152 359.6L1147 359.6ZM1108 334L1112 340M1116 336L1118 339M1122 343L1126 345M1123.6 347.2L1125.2 348.4M1166 364.4L1167.2 366M1063 423.6L1064.4 425.6M183 500L185 506L187 514L190 521L193 526L195 532L197 536L197 541L202 544.4L210 543.6L218 542.4L226 541L232 538L237 533L241 528L245 523L247 518L247 513L252 510L256 508L257 504L256 500M283 500L284 505L287 510L291 512.4L296 510L299 505L300 500M64 682L70 679L80 677L90 675L96 672L102 671L110 671L120 670L130 669L138 669.6L146 670L158 669L170 668.4L182 667.6L190 668L200 669L210 670L214 671L222 669.6L230 668L238 666L246 664L254 665L260 667L266 666L270 668L274 665L282 662.4L290 661L300 659.6L306 659L310 657L318 655M64 681L72 680L82 678.4L92 676L95 673.6M103 672.4L108 672L108.4 674.8L103.6 675.2ZM114 671.4L123 671L123 673.4L114.4 673.8ZM130 670L134 668L146 670L136 673.6L132 673ZM181 667L188 666.4L188.4 668.6L182 669.2ZM300 659L306 660L310 655L316 653.6L324 655L332 658L340 659.6L350 660L360 660.4L370 661L376 663L380 666L384 667.6L390 667L396 666L402 663L408 660L416 658L424 656.4L432 655.6L440 656L452 656.4L464 656L465 652L470 650L475 650.4L476 653L484 653.6L490 652.4L494 654L500 655.6L508 657L514 655L520 654L528 654.4L536 655.6L546 656.4L556 656L568 655.6M376 663L377 669L382 670L388 668M420 658L428 655L440 654.4M464 656L472 656.4L476 653M527 500L526 506L527 512L529 517L531 524L532 532L533 540L536 545L542 546.4L549 544.4L556 542L562 540L568 537M372 594.4L374.4 595.6L377 594L376 597L373 597ZM560 541L566 538L574 535.6L582 534.4L590 535L597 538L602 543L607 541L610 538L611 543L613 548L608 549.6L607 546L610 543M613 548L616 551L620 555L626 557.6L632 558.4L640 559.4L646 558L652 555L656 550L659 544L662 537L664 530L664.4 522L663 514L660 508L656 503L651 500M634 566L640 565L647 566L647 571L644 575L640 576L636 573L634.4 569ZM731.6 543.6L735 547L738 552L741 554L746 556L751 555.6L750 559L746 562L744 566L740 569L737 567L738 563L736 560L737 557L735 553L733 548ZM736 566L732 566L728 569L724 573L719 577L714 580L711 583L714 585L713 588L717 588L720 585L725 582L729 579L732 576L735 572L737 569ZM560 656L568 656.4L576 658L582 659L584 656L592 655L599 653.6L602 655L612 656L622 657L632 659L640 661L648 662L656 663L668 664.4L680 666L688 667.6L692 670L696 669.6L704 669L714 670L722 672.4L725 675L722 678L716 680L710 682L704 685L700 687L697 690L698 694L704 696L716 695L730 695L744 696L756 697L768 697.6L780 698L792 698.4L804 699L812 698L820 698.4L828 698M704 696L696 698L690 700L688 704L690 708M598 652L601 651L602.4 654L599.6 655.6ZM812.4 701L818 698.4L825 699.6L826 702.4L820 705L814 704ZM707.6 500L712 501M710 695L700 697L690 700L688 704L690 708L700 711L712 713L724 714.4L736 715.6L748 717L760 718.4L772 719.6L784 720.4L796 721L808 721.6M790 698L802 698L812 697.6L830 695L840 697L850 701L860 704L876 706.4L860 707L850 708L845 710L847 716L852 719L862 720.4L874 722.4L860 723L840 722.4L814 722L802 720.4L790 720M830 695L842 693.6L854 694.4L860 692L870 689.6L880 688L894 686.4L910 684.4L926 683L938 682L942 680L954 680.4L964 682L976 682.4L990 681.6L998 684L1006 685.6L1016 685L1022 680L1034 676L1048 677L1058 677.6M812 700L818 698L826 701L824 704.4L816 705ZM858 692.4L866 690L874 691L872 695L862 696.4ZM924 685.6L934 684L942 686.4L938 690L928 689.6ZM972 683L982 682.4L990 684L988 687L976 687.2ZM1020 678L1030 675L1042 675.6L1048 679L1042 682L1034 680.4L1028 683L1022 682ZM832 698L842 699L845 697L836 696"/>
<path d="M1137 500L1135 508L1134 516L1133 524L1132 532L1130 540L1128 548L1126 556L1125 564L1124 572L1123 580L1121 586L1118 591L1118 597L1120 603L1123 608L1128 612L1134 615L1140 617.6L1146 617L1152 616L1155 615L1150 614L1146 611L1143 607L1141 602L1140 597L1143 594L1147 592L1150 589L1148 585L1147 581L1150 579L1155 577L1156 572L1154 569L1158 566L1162 564L1164 560L1168 558L1174 557L1180 554L1183 550L1182 547L1186 545L1192 543L1196 539L1200 535L1204 530L1207 525L1210 520L1211 514L1214 510L1220 506L1228 503L1234 501L1238 500M1123 570L1128 569L1128.4 579L1123.6 580ZM1121 586L1124 588L1122.4 592L1119.6 594M1128 609L1134 608L1140 609L1139 612L1132 613L1128 609M1121 602L1125 606L1130 609M1168 603.6L1174 602.4L1179 604L1177 606L1170 606ZM1247 612L1252 613L1256 615L1254 616.4L1249 614M1218 635.6L1223 636.8M1189 645L1182 644.4L1174 646L1166 648L1158 649L1154 652L1150 655L1144 658L1139 660L1142 661L1148 660L1152 658L1154 661L1153 665L1158 666L1162 670L1164 674L1166 680L1165 685L1162 688L1154 691L1146 693L1154 693.6L1166 690L1170 687L1182 689L1194 692L1206 695L1216 698L1226 699L1238 698L1250 697L1260 695L1270 693L1280 691L1287 689M1167 686L1178 690L1190 694L1202 697L1214 699.6L1226 700.4L1238 699.6L1250 698M1189 645L1186 647L1178 649L1172 652L1170 658L1171 664L1169 670L1170 676L1171 681L1168 686M1154 652L1158 655L1155 658L1160 658L1166 652L1174 649M1172 641.6L1180 640.4M1114 670L1120 667L1130 664.4L1138 666L1144 670L1147 675L1144 678L1136 679L1128 678L1120 676L1115 673ZM1120 670L1128 668L1136 669.6L1135 673.6L1126 674.4L1121 673ZM1122 671L1134 672M1124 672.4L1133 670.4M1030 676L1038 675.6L1048 677L1058 677.6L1070 678.4L1082 679.6L1094 680L1106 678.4L1114 676M1030 678L1038 677L1048 679L1046 682.4L1036 683L1030 682ZM1088 679L1096 678.4L1097 681L1089 681.6ZM1105 677L1108 679M151.6 204.4L152.5 208L153.4 211.6L154.3 215.1L157.9 216.9L162.4 216.5L166.9 215.1L170.4 214.3L172.2 216L174 218.7L175.8 222.3L177.6 225L179.4 226.8L182.1 227.7L184.8 226.8L187.5 225L190.1 223.2L191 220.5L191.9 217.8L193.7 215.1L197.3 213.4L199.1 211.6L197.3 209.8L194.6 208.9L193.7 206.2L194.6 203.5L197.3 201.7L200.9 199.9L204.5 198.1L208.1 196.3L211.6 194.6L216.1 192.8L219.7 191.9L221.5 192.8L219.7 194.6L216.1 196.3L212.5 199L209.8 201.7L208.1 204.4L207.2 207.1L208.1 209.8L211.6 210.7L216.1 211.6L220.6 211.6L225.1 211.1L229.5 210.7L234 209.8L238.5 208.9L241.2 207.1L243.9 208L246.6 209.8M238.5 212.5L229.5 212.5L220.6 213.4L216.1 214.3L211.6 216L210.7 218.7L214.3 217.8L217 218.7L216.1 221.4L211.6 222.3L209 224.1L207.2 226.8L206.3 229.5L202.7 230.4L198.2 230.8L193.7 231.3L189.3 231.7L184.8 231.3L180.3 231.7L175.8 231.3L174 229.5L171.3 230.4L169.6 227.7L167.8 225.9L168.7 223.2L166.9 221.4L163.3 222.3L161.5 225L162.4 227.7L160.6 230.4L157.9 233.1L155.2 235.7L151.6 237.5L149 239.3L145.4 241.1L141.8 242.9L140 243.8M151.6 204.4L154.3 202.6L157.9 200.8L162.4 199L166.9 196.3L170.4 193.7L174 191L176.7 188.3L179.4 185.6L182.1 183.8L184.8 182.5L188.4 181.1L186.6 182.9L190.1 182L191.9 180.2L195.5 178.4L199.1 176.6L202.7 175.7L208.1 174.4L213.4 173.5L218.8 172.9L224.2 172.6L229.5 172.6L234.9 173.5L238.5 174.9L241.2 175.3L238.5 176.2L234.9 175.7L236.7 176.6L243 177.1L249.3 178L255.5 178.9L260 179.8M196.4 219.2L198.2 218.6L199.3 220.1L198 221.4L196.6 220.7ZM169.6 224.6L172.2 224.1L172.7 226.8L170.4 227.7ZM173.1 227.7L175.8 227.2L176.7 229.5L174.5 230.4ZM239.4 207.1L242.1 205.7L245.7 206.2L247 208M186.6 181.6L190.1 179.8L193.7 180.2L191 182.5L188.4 183.4M108.7 219.2L111 217L115.4 216.2L119.9 216.2L122.9 214.7L124.1 215.9L122.2 217.4L125.2 218.5L127.4 220L128.5 223L128.2 226.7L129.7 229L131.9 230.4L134.2 232.7L136.4 234.2L138.7 235.7L140.1 237.9L140.9 240.2L139.4 242.4L137.2 243.9L134.9 244.3L137.9 245.4L136.4 246.9L132.7 248L128.9 247.7L125.2 247.7L121.4 246.9L118.4 245.8L115.4 246.9L114.7 245.4L117.7 243.9L119.9 242.4L122.9 242.1L123.7 240.9L120.7 240.2L119.9 238.7L122.2 237.2L122.9 234.9L121.4 233.4L118.4 234.2L118.1 237.2L114.7 237.9L114 234.9L112.5 233.4L110.2 232.7L112.5 230.4L111 228.2L112.5 226L114 223.7L112.5 222.2L110.2 221.1ZM99 231.9L101.2 231.2L105 230.4L108.7 230.1L111.7 230.8L113.2 232.7L114 234.9L113.2 237.2L111 238.7L108 239.4L105 240.2L102 240.9L99 241.3L97.5 239.8L99.7 238.7L101.2 237.2L100.5 235.7L99 234.2L98.6 232.7ZM117.7 252.2L119.9 251L122.2 250.7L123.7 251.8L125.9 252.9L127.4 254L130.4 252.9L133.4 251.4L136.4 249.9L139.4 248.4L142.4 245.8L145.4 243.2L148.4 240.2L149.9 237.9L152.1 237.2L154.4 235.7L157.4 234.9L160.4 233.4L161.9 231.2L161.1 227.5L161.9 224.5L164.1 222.2L167.1 221.1L169.3 223L167.8 226L169.3 228.2L172.3 227.5L174.6 226.7L176.1 225.2L174.6 222.2L173.8 219.2L172.3 216.2L170.8 214L167.8 213.2L164.9 214.7L161.9 216.2L158.9 217L155.9 216.2L153.6 214L152.1 211L151.4 208L150.6 205M117.7 252.2L117.7 253.7L119.2 253.7L121.4 252.9L123.7 253.7L125.9 255.9L127.4 258.1L128.9 260.4L130 262.6L129.7 265.6L128.9 268.6L125.9 269L122.9 269L119.9 269.4L116.2 269.4L112.5 269L108.7 269L105.7 268.6L103.5 270.1L102.4 271.6L102.7 274.6L103.1 278.4L102.7 282.8M131.9 282.8L134.9 279.9L138.7 277.6L142.4 275.4L145.4 272.4L148.4 270.9L152.1 270.1L155.9 269.4L159.6 267.9L163.4 266.4L166.3 267.1L169.3 269.4L172.3 270.9L173.8 273.1M108.3 217.7L109.8 216.2L112.5 215.5M128.9 210.6L130.8 211.4L132.7 210.2L133.4 208M100.9 296.6L101.3 292.1L103.6 289.4L102.7 285.8L101.8 281.3L102.2 276.9L101.8 272.4L105.4 269.3L110.7 268.8L117.9 269.3L124.2 269.7L128.7 269.3L131.3 267L130.4 263.4L129.6 259L126.9 255.4L123.3 253.6L118.8 252.7L117.9 250.9M100.9 296.6L103.6 292.1L108.1 291.6L111.6 293L114.3 295.7L116.1 297.5L112.5 300.1L111.6 302.8L108.1 304.6L104.5 306.4L101.8 309.1L100.9 312.7L100 316.3M114.3 295.7L117.9 296.6L123.3 297.5L128.7 296.6L133.1 293.9L137.6 293L142.1 292.5L146.6 292.1L151.9 292.5L157.3 292.1L162.7 291.2L166.3 291.6L169 293.9L171.6 296.6L170.7 300.1L169 301.9L170.7 303.7L174.3 305.5L177.9 306.4L182.4 307.3L186 309.1L188.7 311.8L193.1 313.6L197.6 315.4L201.2 314.5L203 310L205.7 307.3L209.3 306.9L212.8 308.2L216.4 309.1L220 310"/>
<path d="M128.7 269.3L131.3 271.5L134 274.2L135.8 276.9L134.9 280.4L134 284L133.1 287.6L132.2 290.7L129.6 292.1L126.9 293.9L123.3 294.8L119.7 294.3M162.7 272.4L165.4 271.5L166.7 274.2L166.3 277.8L164.9 281.3L165.8 284.9L164.5 285.8L162.7 284L163.1 279.6L162.7 276ZM161.8 279.6L164.5 278.7L166.7 280.4L167.2 284L165.4 285.8L162.7 285.4ZM141.2 282.2L144.8 282.7L145.7 284L142.1 284.5ZM166 263L170 261L174 260.5L178 262L181 263L184 266L187 270L191 272L195 274L198 276L200 279L198 280L195 279L196 282L194 285L191 287L189 290L187 292M166 265L170 264L173 265L176 268L178 271L180 274L183 277L185 280L187 283L188 285L186 287.5L187 292M176.5 289L180 288L183.5 288.8L184 290.8L181 291.2L177 290.5ZM195 272L198 274L201 279L203 282L206 286L208 290L210 294L212 294.5L213 292L211 290L209 288L212 287.5L215 290L217 291L218 289.5L216 287L214 284L212 281L211.5 279.5L215 279L219 278.5L223 279L226 279.5L230 279L234 279.5L236 278L240 276.5L244 275.5L248 274.5L252 274.5L256 275L260 276.5L264 277.5L268 278.5L272 277.5L276 276.5L278.5 274.5L277 272L274 270L270 268L266 266L263 264.5L265 262L267 259.5L269.5 257L265 256.5L261 258L257 259.5L253 260.5L252 262.5L254 264.5L251 266L249 263L247 260L244 259L241 258.5L238 260L236 263L234 266L232 269L230 272L229 274L231 276.5L234 279M223 280L224 283L225 287L226 290L229 293L231 296L230 294L231 294L236 295L240 293L244 294L248 296L251 294L254 292.5L258 293L258.5 297L258 301L256 305L254 309L252 312L248 313L244 312L240 311.5L236 313L231 312.5L226 312L221 311L216 309L212 307.5L209 307L206 308L203 310L202 314L200 315.5L196 314L192 312L188 310L185 307L181 306L176 305.5L172 304L169 302L170 299L172 297L170 295L168 294L166 293M214 298.2L219 297.8L225 299L224.5 300L219 300.2L215 299.5ZM245 300L249 298.5L254 297L253 299L250 300.5L246 301.2ZM246 318L248 322L251 326L253 330L255 335L257 339L260 343L262 347L263 351L263.5 354M246 318L249 320L251 324L252 324L253.5 321L254 318L256 322L259 326L262 330L264 335L267 339L269 343L270 347L273 351L276 354M300 260L297 262L295 265L297 270L300 274M224 280.5L226 282L228 281L231 280M549 360L551 357.5L554 358L557 357.5L557.5 361L556 365L555 369L558 372L562 373L564 376L562 378L559 377L556 376L554 379L552 378L550 375L548 373L549 369L548.5 365ZM556 379L560 378L564 379L568 380L569 384L567 387L565 390L562 389L560 386L557 385L556 382ZM558 381L562 382L565 384.5L564 387M560 380L563 383L562 386M562 390L566 391L570 390L572 393L571.5 398L569 402L565 402.5L562.5 399L561 396L557 397L555.5 395.5L559 393ZM539.5 393L543 390L547 384.5M511 416L516 414L520 412L525 409L529 405L534 401L538 398L542 400L546 404L544 407L541 411L542 415L544.5 419L541 420L540 424L538 428L535 431L534 436L531 437L528 435L524 434L520 433L516 433L514 429L513 425L511 421L510.5 418ZM548 420L552 419L557 419.5L562 419L566 416.5L568 417L566 420L562 422L558 422.5L554 423L552 426L554 429L557 427L560 425L556 430L555 433L558 436L560.5 440L559 442.5L556 439L553 435L551 433L550 437L549.5 441L547 441.5L546.5 438L547 434L545 432L546.5 428L548 425L547.5 422ZM574.5 416L576 415L577 418L579.5 417L579 420L577.5 423L578 426L576 427L575 424L575.5 420ZM585 423L588 424L592 423L596 424.5L597.5 428L595 430L592 429L590 427L587 426ZM594 431L596 435L600 437L604 438L608 439L611 441L613 444L614 447L612 449L611 452M570 434.2L574 433.8L574.2 435.5L570.5 435.8ZM577 432.5L583 433L586 434.5L583 435.2L578 434.2ZM564 429L567 429M587 449.8L589 448.5M598.5 442L599.5 446M500.8 430.8L501.4 431.4M506.6 432.6L507.4 433.4M949.6 153.7L955.5 151.9L963.9 150.7L973.4 149.5L979.4 148.3L985.4 147.1L993.7 146.5L1002.1 147.1L999.7 149.5L992.5 150.7L987.8 152.5L981.8 153.7L975.8 155.4L969.9 156.6L963.9 157.2L957.9 156.6L951.9 156L949.6 154.9ZM985.4 147.7L1002.1 148.3L999.7 150.1L987.8 149.5M963.9 153.7L972.2 154.3L971 156.3L965.1 155.8M945.4 168.6L948.4 164.4L951.9 162L957.9 162.6L963.9 164.4L967.5 166.8L971 165.6L975.8 163.2L981.8 163.8L987.8 166.2L993.7 167.4L999.7 166.8L1006.9 165L1012.8 163.8L1017.6 164.4L1016.4 168L1017.6 172.8L1016.4 176.3L1018.8 179.9L1016.4 183.5L1011.6 181.1L1006.9 180.5L1004.5 183.5L999.7 182.3L993.7 181.1L987.8 181.7L983 183.5L979.4 181.1L975.8 177.5L972.2 174L968.7 171.6L963.9 171L957.9 170.4L951.9 171L948.4 170.4ZM974.6 174L989 174.2L987.8 175.7L975.8 175.4M979.4 180.9L985.4 181.4L984.8 183.7L980 183.5M1002.1 182.6L1006.9 182.9L1006.3 184.7L1002.7 184.5M967.5 159.6L975.8 158.4L985.4 157.8L993.7 156.3L1002.1 154.9L1009.3 154.3L1014 155.4L1011.6 157.8L1004.5 159L997.3 159.6L990.1 160.8L983 160.2L975.8 160.8L969.9 161.4M1011.6 144.1L1017.6 142.9L1026 143.5L1033.1 144.7L1039.1 146.5L1041.5 148.9L1037.9 150.7L1033.1 152.5L1028.4 154.3L1023.6 156L1020 157.8L1016.4 156L1014 153.1L1016.4 150.7L1014 147.7ZM1028.4 153.7L1033.1 153.1L1037.9 154.9L1039.1 157.8L1035.5 159L1030.7 158.4L1028.4 156ZM1023.6 166.2L1028.4 163.2L1034.3 162L1040.3 161.4L1043.9 163.2L1045.7 166.8L1043.9 170.4L1039.1 172.2L1035.5 171L1031.9 169.2L1028.4 168.6ZM1051 139.9L1054.6 136.9L1059.4 136.3L1065.4 136.9L1069 139.3L1066.6 141.7L1059.4 142.9L1054.6 144.1L1052.2 142.3ZM1045.1 148.9L1049.9 147.7L1054.6 149.5L1059.4 150.7L1064.2 150.1L1066.6 152.5L1063 154.9L1058.2 154.3L1053.4 156L1048.7 154.9L1046.3 152.5L1045.1 148.9M1047.5 158.4L1052.2 157.2L1057 159L1060.6 160.8L1057 162L1052.2 161.4L1048.7 160.2M1035.5 141.1L1040.3 140.5L1041.5 142L1036.7 142.3M1052.2 164.4L1057 163.2L1061.8 164.4L1066.6 163.2L1071.3 164.4L1077.3 165.6M1052.2 168L1057 171.6L1060.6 175.1L1064.2 178.7L1067.8 181.1L1071.3 179.9L1073.7 183.5L1077.3 185.9L1080.9 183.5L1082.1 178.7L1078.5 176.3L1074.9 174L1071.3 171.6L1069 168L1066.6 165.6M1043.9 172.8L1047.5 175.1L1051 177.5L1053.4 181.1L1049.9 183.5L1045.1 182.9L1042.7 179.9L1045.1 177.5L1042.7 175.1M1023.6 175.1L1028.4 174L1031.9 176.3L1029.6 178.7L1024.8 178.1M1077.3 189.5L1083.3 188.3L1090.4 191.9L1096.4 195.4L1095.2 199L1090.4 201.4L1084.5 200.2L1078.5 197.8L1077.3 193.1ZM1051 213.4L1052.2 208.6L1055.8 205L1060.6 201.4L1065.4 197.8L1071.3 195.4L1076.1 193.1L1078.5 189.5"/>
<path d="M1051 213.4L1054.6 215.7L1059.4 218.1L1064.2 220.5L1069 222.3L1074.9 224.1L1080.9 225.9L1088.1 227.7L1094 229.5L1096.4 232.5L1097.6 237.2L1100 240.8M940 176.3L943.6 177.5L947.2 176.9L950.7 176.3L954.3 177.5M946 190.1L951.9 188.9L959.1 188.3L963.9 187.1L967.5 188.3L972.2 188.9L969.9 191.3L965.1 192.5L960.3 191.9L957.9 194.3L954.3 193.1L950.7 191.3ZM955.5 188.9L959.1 190.4L963.9 189.5L961.5 191.3M980.6 203.8L985.4 202.6L991.3 201.4L997.3 201.4L1002.1 202L999.7 203.2L993.7 203.8L990.1 205.6L986.6 206.2L981.8 207.4L979.4 206.2ZM994.3 215.7L997.3 214L1002.1 213.1L1006.9 213.4L1005.1 215.1L1000.9 216.3L996.1 216.9ZM1022.4 224.1L1023.6 219.3L1026 216.9L1028.4 218.1L1028.4 221.7L1026 224.7ZM1029 236L1033.1 234.9L1035.5 233.1L1039.1 233.7L1041.5 236L1042.1 239.6L1040.3 243.2L1037.9 245.6L1035.5 243.2L1034.3 239.6L1031.9 238.4ZM1031.9 236L1035.5 238.4L1037.9 237.2L1039.7 240.2L1037.3 242.6"/>
</g>
<rect x="279.1" y="106" width="4.2" height="633" fill="#e01212"/>
<g id="frame" shape-rendering="crispEdges">
<path fill="#fff" fill-rule="evenodd" d="M46 93H1294V752H46Z M53 101V745H1288V101Z"/>
<rect x="133" y="93" width="156" height="8"/>
<rect x="133" y="745" width="156" height="7"/>
<rect x="444" y="93" width="156" height="8"/>
<rect x="444" y="745" width="156" height="7"/>
<rect x="911" y="93" width="156" height="8"/>
<rect x="911" y="745" width="156" height="7"/>
<rect x="1223" y="93" width="65" height="8"/>
<rect x="1223" y="745" width="65" height="7"/>
<rect x="46" y="212" width="7" height="105"/>
<rect x="1288" y="212" width="6" height="105"/>
<rect x="46" y="423" width="7" height="105"/>
<rect x="1288" y="423" width="6" height="105"/>
<rect x="46" y="634" width="7" height="106"/>
<rect x="1288" y="634" width="6" height="106"/>
<rect x="46" y="101" width="7" height="6"/>
<rect x="1288" y="99" width="6" height="8"/>
<rect x="46" y="93" width="1248" height="2"/>
<rect x="52" y="99" width="1237" height="2"/>
<rect x="52" y="745" width="1237" height="1"/>
<rect x="46" y="751" width="1248" height="1"/>
<rect x="46" y="93" width="1" height="659"/>
<rect x="52" y="99" width="1" height="647"/>
<rect x="1288" y="99" width="1" height="647"/>
<rect x="1293" y="93" width="1" height="659"/>
<rect x="756" y="93" width="1" height="8"/>
<rect x="756" y="745" width="1" height="7"/>
</g>
<g id="labels" font-size="50.2" stroke="#000" stroke-width="0.8" stroke-linejoin="round">
<text transform="translate(53.7 37.2) scale(1 1.065)">1996-02-09/09:10:00</text>
<text transform="translate(133.9 84.6) scale(1 1.065)" text-anchor="middle">0</text>
<text transform="translate(133.9 794.3) scale(1 1.065)" text-anchor="middle">0</text>
<text transform="translate(289.6 84.6) scale(1 1.065)" text-anchor="middle">45</text>
<text transform="translate(289.6 794.3) scale(1 1.065)" text-anchor="middle">45</text>
<text transform="translate(445.2 84.6) scale(1 1.065)" text-anchor="middle">90</text>
<text transform="translate(445.2 794.3) scale(1 1.065)" text-anchor="middle">90</text>
<text transform="translate(600.9 84.6) scale(1 1.065)" text-anchor="middle">135</text>
<text transform="translate(600.9 794.3) scale(1 1.065)" text-anchor="middle">135</text>
<text transform="translate(756.5 84.6) scale(1 1.065)" text-anchor="middle">180</text>
<text transform="translate(756.5 794.3) scale(1 1.065)" text-anchor="middle">180</text>
<text transform="translate(912.2 84.6) scale(1 1.065)" text-anchor="middle">-135</text>
<text transform="translate(912.2 794.3) scale(1 1.065)" text-anchor="middle">-135</text>
<text transform="translate(1067.8 84.6) scale(1 1.065)" text-anchor="middle">-90</text>
<text transform="translate(1067.8 794.3) scale(1 1.065)" text-anchor="middle">-90</text>
<text transform="translate(1223.5 84.6) scale(1 1.065)" text-anchor="middle">-45</text>
<text transform="translate(1223.5 794.3) scale(1 1.065)" text-anchor="middle">-45</text>
<text transform="translate(37.3 106.7) rotate(-90) scale(1 1.065)" text-anchor="middle">90</text>
<text transform="translate(1303.5 106.7) rotate(90) scale(1 1.065)" text-anchor="middle">90</text>
<text transform="translate(37.3 212.1) rotate(-90) scale(1 1.065)" text-anchor="middle">60</text>
<text transform="translate(1303.5 212.1) rotate(90) scale(1 1.065)" text-anchor="middle">60</text>
<text transform="translate(37.3 317.4) rotate(-90) scale(1 1.065)" text-anchor="middle">30</text>
<text transform="translate(1303.5 317.4) rotate(90) scale(1 1.065)" text-anchor="middle">30</text>
<text transform="translate(37.3 422.8) rotate(-90) scale(1 1.065)" text-anchor="middle">0</text>
<text transform="translate(1303.5 422.8) rotate(90) scale(1 1.065)" text-anchor="middle">0</text>
<text transform="translate(37.3 528.2) rotate(-90) scale(1 1.065)" text-anchor="middle">-30</text>
<text transform="translate(1303.5 528.2) rotate(90) scale(1 1.065)" text-anchor="middle">-30</text>
<text transform="translate(37.3 633.5) rotate(-90) scale(1 1.065)" text-anchor="middle">-60</text>
<text transform="translate(1303.5 633.5) rotate(90) scale(1 1.065)" text-anchor="middle">-60</text>
<text transform="translate(37.3 738.9) rotate(-90) scale(1 1.065)" text-anchor="middle">-90</text>
<text transform="translate(1303.5 738.9) rotate(90) scale(1 1.065)" text-anchor="middle">-90</text>
</g>
<defs><linearGradient id="cb" x1="0" x2="1" y1="0" y2="0">
<stop offset="0.0000" stop-color="#000000"/>
<stop offset="0.0563" stop-color="#2e0040"/>
<stop offset="0.1125" stop-color="#550090"/>
<stop offset="0.1688" stop-color="#3a00d0"/>
<stop offset="0.2250" stop-color="#0000ff"/>
<stop offset="0.4000" stop-color="#00ffff"/>
<stop offset="0.5750" stop-color="#00ff00"/>
<stop offset="0.7500" stop-color="#ffff00"/>
<stop offset="0.9250" stop-color="#ff0000"/>
<stop offset="1.0000" stop-color="#ff0000"/>
</linearGradient></defs>
<g id="colourbar">
<rect x="170" y="951.5" width="1000" height="43" fill="url(#cb)" stroke="#000" stroke-width="1.2"/>
<path d="M295 994.5v-5M420 994.5v-10M545 994.5v-5M670 994.5v-10M795 994.5v-5M920 994.5v-10M1045 994.5v-5" stroke="#000" stroke-width="0.8" fill="none" opacity="0.75"/>
<text transform="translate(170.5 1041.8) scale(1 1.065)" font-size="37.2" text-anchor="middle" stroke="#000" stroke-width="0.7">0</text>
<text transform="translate(420.5 1041.8) scale(1 1.065)" font-size="37.2" text-anchor="middle" stroke="#000" stroke-width="0.7">10</text>
<text transform="translate(670.5 1041.8) scale(1 1.065)" font-size="37.2" text-anchor="middle" stroke="#000" stroke-width="0.7">20</text>
<text transform="translate(920.5 1041.8) scale(1 1.065)" font-size="37.2" text-anchor="middle" stroke="#000" stroke-width="0.7">30</text>
<text transform="translate(1170.5 1041.8) scale(1 1.065)" font-size="37.2" text-anchor="middle" stroke="#000" stroke-width="0.7">40</text>
<text id="cbtitle" transform="translate(0 929) scale(1 1.05)" font-size="44" stroke="#000" stroke-width="0.75" xml:space="preserve"><tspan x="530.9">TEC </tspan><tspan x="640.9 655.2 679.5">[10</tspan><tspan x="702.7 716.9" dy="-18.3" font-size="27.5">16</tspan><tspan x="732.9 746.3" dy="18.3">/m</tspan><tspan x="782" dy="-18.3" font-size="27.5">2</tspan><tspan x="797.5" dy="18.3">]</tspan></text>
</g>
</svg>
</body></html>
